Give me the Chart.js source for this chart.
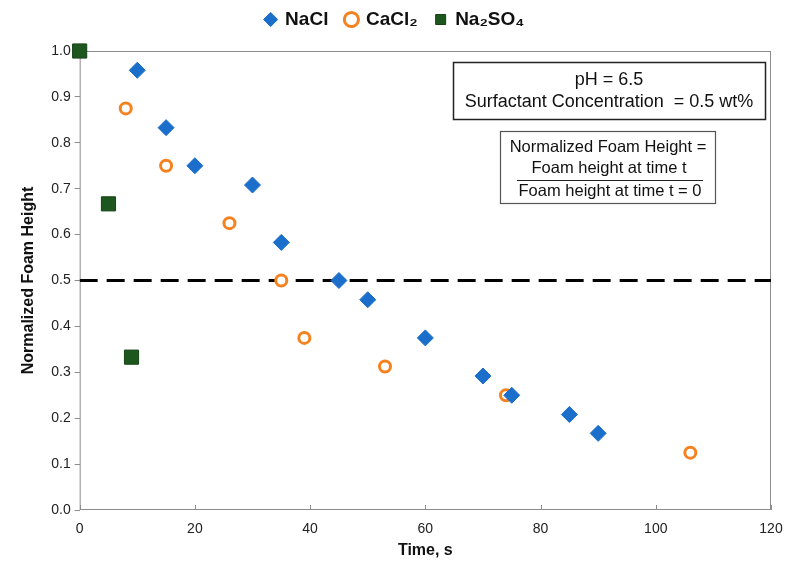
<!DOCTYPE html>
<html>
<head>
<meta charset="utf-8">
<script src="https://cdn.jsdelivr.net/npm/chart.js@4"></script>
<style>
  html, body { margin: 0; padding: 0; background: #fff; }
  #wrap { width: 787px; height: 562px; }
</style>
</head>
<body>
<div id="wrap"><canvas id="myChart" width="787" height="562"></canvas></div>
<script>
// time (s) and normalized foam height for each salt
const naclTime = [10, 15, 20, 30, 35, 45, 50, 60, 70, 75, 85, 90];
const naclHeight = [0.958, 0.833, 0.75, 0.708, 0.583, 0.5, 0.458, 0.375, 0.292, 0.25, 0.208, 0.167];
const cacl2Time = [8, 15, 26, 35, 39, 53, 74, 106];
const cacl2Height = [0.875, 0.75, 0.625, 0.5, 0.375, 0.3125, 0.25, 0.125];
const na2so4Time = [0, 5, 9];
const na2so4Height = [1.0, 0.667, 0.333];
const halfLineTime = [0, 120];
const halfLineHeight = [0.5, 0.5];

const toPoints = (xs, ys) => xs.map((x, i) => ({ x, y: ys[i] }));
const FONT = '"Liberation Sans", Arial, sans-serif';

// leave a bit more room under the legend
const legendSpacer = {
    id: 'legendSpacer',
    beforeInit(chart) {
        const legend = chart.legend;
        const fit = legend.fit;
        legend.fit = function () {
            fit.call(this);
            this.height += 12;
        };
    }
};

const borderPlugin = {
    id: 'borderPlugin',
    beforeDatasetsDraw(chart) {
        const { ctx, chartArea, scales } = chart;
        ctx.save();
        ctx.strokeStyle = '#8c8c8c';
        ctx.lineWidth = 1;
        ctx.strokeRect(chartArea.left + 0.5, chartArea.top + 0.5, chartArea.width - 1, chartArea.height - 1);
        // inward ticks on the x axis
        scales.x.ticks.forEach(t => {
            const px = Math.round(scales.x.getPixelForValue(t.value)) + 0.5;
            ctx.beginPath();
            ctx.moveTo(px, chartArea.bottom);
            ctx.lineTo(px, chartArea.bottom - 5);
            ctx.stroke();
        });
        ctx.restore();
    },
    afterDraw(chart) {
        const { ctx } = chart;
        ctx.save();
        ctx.textAlign = 'center';
        ctx.textBaseline = 'middle';

        // conditions box
        ctx.fillStyle = '#fff';
        ctx.fillRect(453, 62, 312, 57);
        ctx.strokeStyle = '#222';
        ctx.lineWidth = 1.5;
        ctx.strokeRect(453.5, 62.5, 312, 57);
        ctx.fillStyle = '#111';
        ctx.font = '18px ' + FONT;
        ctx.fillText('pH = 6.5', 609, 80);
        ctx.fillText('Surfactant Concentration  = 0.5 wt%', 609, 102);

        // definition box
        ctx.fillStyle = '#fff';
        ctx.fillRect(500, 131, 215, 72);
        ctx.strokeStyle = '#555';
        ctx.lineWidth = 1.2;
        ctx.strokeRect(500.5, 131.5, 215, 72);
        ctx.fillStyle = '#111';
        ctx.font = '16.5px ' + FONT;
        ctx.fillText('Normalized Foam Height =', 608, 147);
        ctx.fillText('Foam height at time t', 609, 168);
        ctx.fillText('Foam height at time t = 0', 610, 191);
        ctx.strokeStyle = '#222';
        ctx.lineWidth = 1;
        ctx.beginPath();
        ctx.moveTo(517, 180.5);
        ctx.lineTo(703, 180.5);
        ctx.stroke();
        ctx.restore();
    }
};

const ctx = document.querySelector('#myChart');
const chart = new Chart(ctx, {
    type: 'scatter',
    data: {
        datasets: [
            {
                label: 'NaCl',
                data: toPoints(naclTime, naclHeight),
                pointStyle: 'rectRot',
                pointRadius: 8,
                backgroundColor: '#1b6fcb',
                borderColor: '#1b6fcb',
                borderWidth: 1,
                clip: false,
            },
            {
                label: 'CaCl\u2082',
                data: toPoints(cacl2Time, cacl2Height),
                pointStyle: 'circle',
                pointRadius: 5.5,
                backgroundColor: '#ffffff',
                borderColor: '#f5821f',
                borderWidth: 3,
                clip: false,
            },
            {
                label: 'Na\u2082SO\u2084',
                data: toPoints(na2so4Time, na2so4Height),
                pointStyle: 'rect',
                pointRadius: 10,
                backgroundColor: '#1d571d',
                borderColor: '#164316',
                borderWidth: 1,
                clip: false,
            },
            {
                label: 'half',
                data: toPoints(halfLineTime, halfLineHeight),
                showLine: true,
                pointRadius: 0,
                borderColor: '#000',
                borderWidth: 3,
                borderDash: [18, 9],
            },
        ],
    },
    options: {
        responsive: false,
        animation: false,
        layout: {
            padding: { left: 19, right: 16, top: -8, bottom: 2 }
        },
        scales: {
            x: {
                type: 'linear',
                min: 0,
                max: 120,
                ticks: {
                    stepSize: 20,
                    color: '#222',
                    padding: 3,
                    font: { size: 14, family: FONT }
                },
                grid: { display: false },
                border: { display: false },
                title: {
                    display: true,
                    text: 'Time, s',
                    color: '#111',
                    padding: { top: 0, bottom: 0 },
                    font: { size: 16, weight: 'bold', family: FONT }
                }
            },
            y: {
                min: 0,
                max: 1.0,
                ticks: {
                    stepSize: 0.1,
                    color: '#222',
                    padding: 4,
                    callback: (v) => Number(v).toFixed(1),
                    font: { size: 14, family: FONT }
                },
                grid: {
                    drawOnChartArea: false,
                    drawTicks: true,
                    tickLength: 5,
                    color: '#8c8c8c'
                },
                border: { display: false },
                title: {
                    display: true,
                    text: 'Normalized Foam Height',
                    color: '#111',
                    padding: { top: 0, bottom: 9 },
                    font: { size: 16, weight: 'bold', family: FONT }
                }
            }
        },
        plugins: {
            legend: {
                display: true,
                position: 'top',
                labels: {
                    usePointStyle: true,
                    boxWidth: 10,
                    boxHeight: 10,
                    padding: 18,
                    color: '#111',
                    font: { size: 19, weight: 'bold', family: FONT },
                    filter: (item) => item.text !== 'half'
                }
            },
            tooltip: { enabled: false }
        }
    },
    plugins: [legendSpacer, borderPlugin]
});
</script>
</body>
</html>
